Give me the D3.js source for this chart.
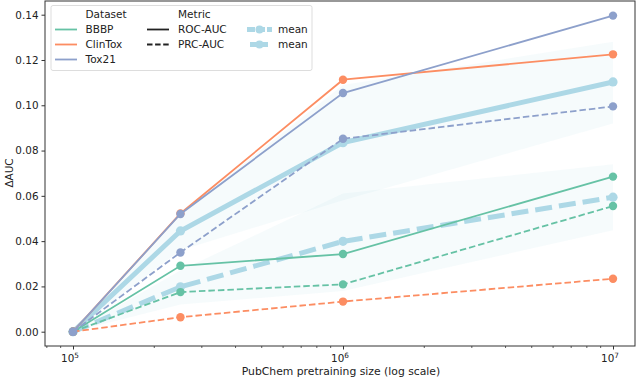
<!DOCTYPE html>
<html>
<head>
<meta charset="utf-8">
<script src="https://cdn.jsdelivr.net/npm/d3@7"></script>
<style>
  body { margin: 0; background: #fff; }
  svg text { font-family: "DejaVu Sans", sans-serif; fill: #222; }
</style>
</head>
<body>
<svg id="chart" width="640" height="379"></svg>
<script>
// pretraining sizes
const sizes = [1e5, 2.5e5, 1e6, 1e7];

// delta AUC per dataset / metric
const bbbpRoc = [0, 0.0291, 0.0343, 0.0685];
const bbbpPrc = [0, 0.0175, 0.0209, 0.0555];
const clintoxRoc = [0, 0.0522, 0.1113, 0.1225];
const clintoxPrc = [0, 0.0064, 0.0133, 0.0234];
const tox21Roc = [0, 0.0520, 0.1054, 0.1396];
const tox21Prc = [0, 0.0350, 0.0852, 0.0995];

// means and shaded bands
const meanRoc = [0, 0.0445, 0.0835, 0.1103];
const meanPrc = [0, 0.0198, 0.0399, 0.0594];
const rocBandLow = [0, 0.036, 0.058, 0.092];
const rocBandHigh = [0, 0.052, 0.109, 0.128];
const prcBandLow = [0, 0.012, 0.018, 0.0448];
const prcBandHigh = [0, 0.027, 0.061, 0.0739];

const yTicks = [0, 0.02, 0.04, 0.06, 0.08, 0.10, 0.12, 0.14];
const xTicks = [1e5, 1e6, 1e7];

const colors = { BBBP: "#66c2a5", ClinTox: "#fc8d62", Tox21: "#8da0cb", mean: "#add8e6" };

const svg = d3.select("#chart");
const frame = { left: 45, right: 635, top: 1, bottom: 346 };

const x = d3.scaleLog().domain([1e5, 1e7]).range([73, 613]);
const y = d3.scaleLinear().domain([0, 0.14]).range([331.7, 14.7]);

// bands
const area = d3.area()
  .x((d, i) => x(sizes[i]))
  .y0((d) => y(d[0]))
  .y1((d) => y(d[1]));

svg.append("path")
  .datum(rocBandLow.map((v, i) => [v, rocBandHigh[i]]))
  .attr("d", area)
  .attr("fill", colors.mean)
  .attr("fill-opacity", 0.11);

svg.append("path")
  .datum(prcBandLow.map((v, i) => [v, prcBandHigh[i]]))
  .attr("d", area)
  .attr("fill", colors.mean)
  .attr("fill-opacity", 0.11);

const line = d3.line().x((d, i) => x(sizes[i])).y((d) => y(d));

function drawSeries(vals, color, width, dash, r) {
  const g = svg.append("g");
  g.append("path")
    .datum(vals)
    .attr("d", line)
    .attr("fill", "none")
    .attr("stroke", color)
    .attr("stroke-width", width)
    .attr("stroke-dasharray", dash);
  g.selectAll("circle")
    .data(vals)
    .join("circle")
    .attr("cx", (d, i) => x(sizes[i]))
    .attr("cy", (d) => y(d))
    .attr("r", r)
    .attr("fill", color);
}

const dashed = "6.5,3";
drawSeries(meanRoc, colors.mean, 5, null, 4.6);
drawSeries(meanPrc, colors.mean, 5, "17,7", 4.6);
drawSeries(bbbpRoc, colors.BBBP, 1.8, null, 4.2);
drawSeries(bbbpPrc, colors.BBBP, 1.8, dashed, 4.2);
drawSeries(clintoxRoc, colors.ClinTox, 1.8, null, 4.2);
drawSeries(clintoxPrc, colors.ClinTox, 1.8, dashed, 4.2);
drawSeries(tox21Roc, colors.Tox21, 1.8, null, 4.2);
drawSeries(tox21Prc, colors.Tox21, 1.8, dashed, 4.2);

// frame
svg.append("rect")
  .attr("x", frame.left)
  .attr("y", frame.top)
  .attr("width", frame.right - frame.left)
  .attr("height", frame.bottom - frame.top)
  .attr("fill", "none")
  .attr("stroke", "#333")
  .attr("stroke-width", 1);

// y axis
const yAxis = svg.append("g")
  .attr("transform", "translate(" + frame.left + ",0)")
  .call(d3.axisLeft(y).tickValues(yTicks).tickFormat(d3.format(".2f")).tickSize(3.5).tickPadding(3));
yAxis.select(".domain").remove();
yAxis.selectAll("text").style("font-size", "10.4px").attr("fill", "#222");
yAxis.selectAll("line").attr("stroke", "#333");

// x axis with log minor ticks
const minor = [];
for (let e = 4; e <= 7; e++) {
  for (let m = 2; m <= 9; m++) {
    const v = m * Math.pow(10, e);
    const px = x(v);
    if (px > frame.left && px < frame.right) minor.push(v);
  }
}
const xAxis = svg.append("g")
  .attr("transform", "translate(0," + frame.bottom + ")")
  .call(d3.axisBottom(x).tickValues(xTicks).tickFormat("").tickSize(3.5));
xAxis.select(".domain").remove();
xAxis.selectAll("line").attr("stroke", "#333");
svg.append("g")
  .selectAll("line")
  .data(minor)
  .join("line")
  .attr("x1", (d) => x(d))
  .attr("x2", (d) => x(d))
  .attr("y1", frame.bottom)
  .attr("y2", frame.bottom + 2)
  .attr("stroke", "#333")
  .attr("stroke-width", 0.8);

const xl = svg.append("g")
  .selectAll("text")
  .data(xTicks)
  .join("text")
  .attr("x", (d) => x(d) - 3)
  .attr("y", 362)
  .attr("text-anchor", "middle")
  .style("font-size", "10.4px");
xl.append("tspan").text("10");
xl.append("tspan")
  .attr("dy", -4)
  .style("font-size", "7.3px")
  .text((d) => Math.round(Math.log10(d)));

// axis labels
svg.append("text")
  .attr("x", 341)
  .attr("y", 375)
  .attr("text-anchor", "middle")
  .style("font-size", "10.8px")
  .text("PubChem pretraining size (log scale)");

svg.append("text")
  .attr("transform", "translate(12.5,173) rotate(-90)")
  .attr("text-anchor", "middle")
  .style("font-size", "10.4px")
  .text("ΔAUC");

// legend
const legend = svg.append("g");
legend.append("rect")
  .attr("x", 51).attr("y", 5.5)
  .attr("width", 261).attr("height", 65)
  .attr("rx", 2)
  .attr("fill", "#fff").attr("fill-opacity", 0.8)
  .attr("stroke", "#ddd");

const legendFont = "10.5px";
function legendText(tx, ty, label) {
  legend.append("text").attr("x", tx).attr("y", ty).style("font-size", legendFont).text(label);
}
function legendLine(x1, x2, ly, color, width, dash) {
  legend.append("line")
    .attr("x1", x1).attr("x2", x2).attr("y1", ly).attr("y2", ly)
    .attr("stroke", color).attr("stroke-width", width).attr("stroke-dasharray", dash);
}

legendText(85.5, 18, "Dataset");
const dsNames = ["BBBP", "ClinTox", "Tox21"];
dsNames.forEach((n, i) => {
  const ly = 29.5 + i * 15;
  legendLine(55, 77, ly, colors[n], 1.8, null);
  legendText(85.5, ly + 3.8, n);
});

legendText(178, 18, "Metric");
legendLine(147, 169, 29.5, "#222", 1.8, null);
legendText(178, 33.3, "ROC-AUC");
legendLine(147, 169, 44.5, "#222", 1.8, "5.5,2.6");
legendText(178, 48.3, "PRC-AUC");

legendLine(247, 272, 29.5, colors.mean, 5, "8,2");
legend.append("circle").attr("cx", 259.5).attr("cy", 29.5).attr("r", 4).attr("fill", colors.mean);
legendText(278, 33.3, "mean");
legendLine(250, 268, 44.5, colors.mean, 5, null);
legend.append("circle").attr("cx", 259.5).attr("cy", 44.5).attr("r", 4).attr("fill", colors.mean);
legendText(278, 48.3, "mean");
</script>
</body>
</html>
